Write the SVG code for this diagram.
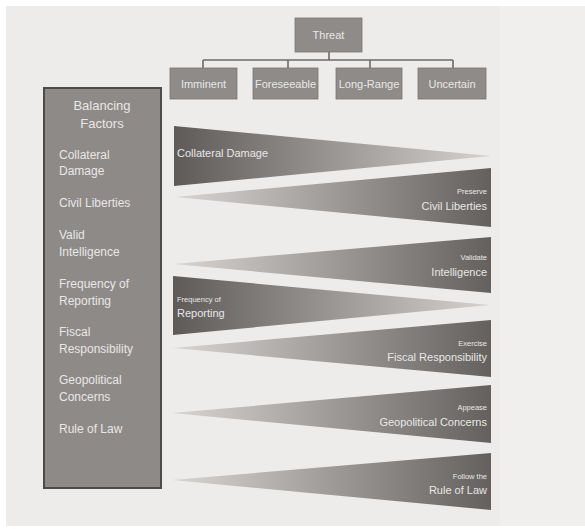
<svg xmlns="http://www.w3.org/2000/svg" width="585" height="529" viewBox="0 0 585 529">
<defs>
<linearGradient id="g-ltr" x1="0" y1="0" x2="1" y2="0">
<stop offset="0" stop-color="#5e5a58"/>
<stop offset="1" stop-color="#d5d2cf"/>
</linearGradient>
<linearGradient id="g-rtl" x1="0" y1="0" x2="1" y2="0">
<stop offset="0" stop-color="#d8d5d2"/>
<stop offset="1" stop-color="#63605e"/>
</linearGradient>
<style>
text{font-family:"Liberation Sans",Arial,sans-serif;fill:#e9e7e5}
.box{fill:#8e8b89;stroke:#7a7674;stroke-width:0.8}
.bt{font-size:11px;text-anchor:middle}
.ft{font-size:12px}
.tl{font-size:11px}
.sm{font-size:7.5px;text-anchor:end}
.rt{text-anchor:end}
.conn{fill:none;stroke:#6e6a68;stroke-width:1.6}
</style>
</defs>
<rect x="0" y="0" width="585" height="529" fill="#ffffff"/>
<rect x="6" y="6" width="579" height="520" fill="#eeecea"/>
<rect x="500" y="6" width="85" height="520" fill="#f1efed"/>
<g id="connectors">
<path class="conn" d="M329 52 V60 M203 60 H453 M203 60 V68 M288 60 V68 M370 60 V68 M453 60 V68"/>
</g>
<g id="threat">
<rect class="box" x="295" y="18" width="67" height="34"/>
<text class="bt" x="328.5" y="39">Threat</text>
</g>
<g id="imminent">
<rect class="box" x="170" y="68" width="67" height="31"/>
<text class="bt" x="203.5" y="87.5">Imminent</text>
</g>
<g id="foreseeable">
<rect class="box" x="253" y="68" width="65" height="31"/>
<text class="bt" x="285.5" y="87.5">Foreseeable</text>
</g>
<g id="long-range">
<rect class="box" x="336" y="68" width="66" height="31"/>
<text class="bt" x="369" y="87.5">Long-Range</text>
</g>
<g id="uncertain">
<rect class="box" x="418" y="68" width="68" height="31"/>
<text class="bt" x="452" y="87.5">Uncertain</text>
</g>
<g id="balancing-factors">
<rect x="44" y="88" width="117" height="400" fill="#8e8a88" stroke="#4d4a49" stroke-width="2"/>
<text x="102" y="110" style="font-size:13px;text-anchor:middle">Balancing</text>
<text x="102" y="128" style="font-size:13px;text-anchor:middle">Factors</text>
<text class="ft" x="59" y="159">Collateral</text>
<text class="ft" x="59" y="175">Damage</text>
<text class="ft" x="59" y="207">Civil Liberties</text>
<text class="ft" x="59" y="239">Valid</text>
<text class="ft" x="59" y="256">Intelligence</text>
<text class="ft" x="59" y="288">Frequency of</text>
<text class="ft" x="59" y="305">Reporting</text>
<text class="ft" x="59" y="336">Fiscal</text>
<text class="ft" x="59" y="353">Responsibility</text>
<text class="ft" x="59" y="384">Geopolitical</text>
<text class="ft" x="59" y="401">Concerns</text>
<text class="ft" x="59" y="433">Rule of Law</text>
</g>
<g id="wedge-collateral">
<polygon points="174,126 491,156 174,186" fill="url(#g-ltr)"/>
<text class="tl" x="177" y="157">Collateral Damage</text>
</g>
<g id="wedge-civil">
<polygon points="175,197 491,168 491,227" fill="url(#g-rtl)"/>
<text class="sm" x="487" y="194">Preserve</text>
<text class="tl rt" x="487" y="210">Civil Liberties</text>
</g>
<g id="wedge-intelligence">
<polygon points="173,264 491,237 491,293" fill="url(#g-rtl)"/>
<text class="sm" x="487" y="260">Validate</text>
<text class="tl rt" x="487" y="276">Intelligence</text>
</g>
<g id="wedge-reporting">
<polygon points="173,276 490,305 173,335" fill="url(#g-ltr)"/>
<text x="177" y="302" style="font-size:7.5px">Frequency of</text>
<text class="tl" x="177" y="317">Reporting</text>
</g>
<g id="wedge-fiscal">
<polygon points="173,348 491,320 491,377" fill="url(#g-rtl)"/>
<text class="sm" x="487" y="346">Exercise</text>
<text class="tl rt" x="487" y="361">Fiscal Responsibility</text>
</g>
<g id="wedge-geopolitical">
<polygon points="172,413 491,385 491,443" fill="url(#g-rtl)"/>
<text class="sm" x="487" y="410">Appease</text>
<text class="tl rt" x="487" y="426">Geopolitical Concerns</text>
</g>
<g id="wedge-law">
<polygon points="172,480 491,453 491,510" fill="url(#g-rtl)"/>
<text class="sm" x="487" y="479">Follow the</text>
<text class="tl rt" x="487" y="494">Rule of Law</text>
</g>
</svg>
